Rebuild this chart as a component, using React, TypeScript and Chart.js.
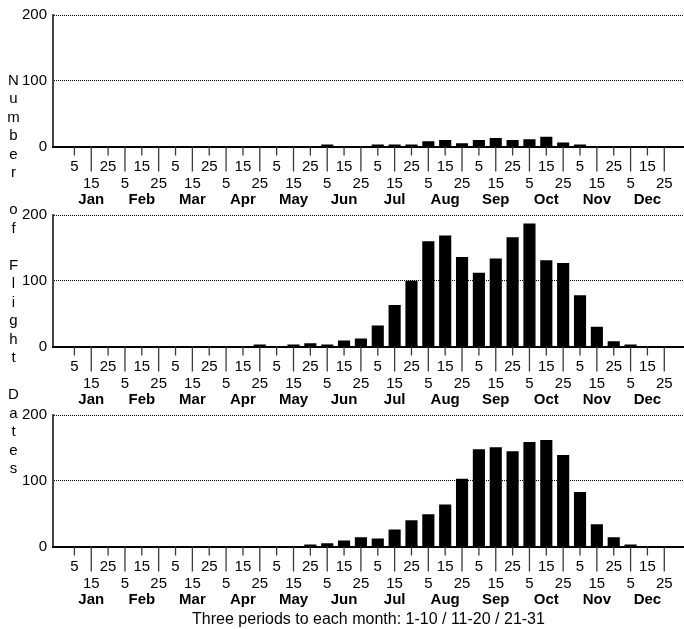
import React, { useEffect, useRef } from 'react';
import { Chart, registerables } from 'chart.js';

Chart.register(...registerables);

// ---- data ----
const months = ['Jan', 'Feb', 'Mar', 'Apr', 'May', 'Jun', 'Jul', 'Aug', 'Sep', 'Oct', 'Nov', 'Dec'];
const dayLabels = ['5', '15', '25'];
const categories = months.flatMap((m) => dayLabels.map((d) => `${m} ${d}`));
const yTicks = [0, 100, 200];

const seriesTop = [
  0, 0, 0, 0, 0, 0, 0, 0, 0, 0, 0, 0,
  0, 0, 0, 3, 0, 0, 3, 3, 3, 8, 10, 5,
  10, 13, 10, 11, 15, 6, 3, 0, 0, 0, 0, 0,
];
const seriesMiddle = [
  0, 0, 0, 0, 0, 0, 0, 0, 0, 0, 0, 3,
  0, 3, 5, 3, 9, 12, 32, 63, 100, 160, 169, 136,
  112, 134, 166, 187, 131, 127, 78, 30, 8, 3, 0, 0,
];
const seriesBottom = [
  0, 0, 0, 0, 0, 0, 0, 0, 0, 0, 0, 0,
  0, 0, 3, 5, 9, 14, 12, 26, 40, 49, 64, 103,
  148, 151, 145, 159, 162, 139, 83, 34, 14, 3, 0, 0,
];

const yAxisTitle = 'Number of Flight Dates';
const xAxisTitle = 'Three periods to each month: 1-10 / 11-20 / 21-31';

const FONT = "'Liberation Sans', Arial, sans-serif";
Chart.defaults.font.family = FONT;

const tickMarks = {
  id: 'tickMarks',
  afterDraw(chart: any) {
    const s = chart.scales.x;
    const ctx = chart.ctx;
    const y0 = chart.chartArea.bottom;
    ctx.save();
    ctx.strokeStyle = '#3a3a3a';
    ctx.lineWidth = 1.3;
    categories.forEach((_, i) => {
      const x = s.getPixelForValue(i);
      ctx.beginPath();
      ctx.moveTo(x, y0);
      ctx.lineTo(x, y0 + (i % 2 === 0 ? 9 : 25));
      ctx.stroke();
    });
    ctx.restore();
  },
};

function buildTicks(s: any) {
  s.ticks = categories.map((_, i) => ({ value: i }));
}

function makeConfig(values: number[], height: number, withTitle: boolean): any {
  const bottom = 146.5;
  const H1 = 44;
  const H2 = withTitle ? height - bottom - H1 : 20;
  const padBottom = withTitle ? 0 : height - bottom - H1 - H2;
  return {
    type: 'bar',
    data: {
      datasets: [
        {
          data: values.map((v, i) => ({ x: i, y: v })),
          backgroundColor: '#000',
          borderWidth: 0,
          barPercentage: 0.72,
          categoryPercentage: 1,
          xAxisID: 'x',
          yAxisID: 'y',
        },
      ],
    },
    options: {
      animation: false,
      responsive: false,
      layout: { padding: { top: 13, left: 0, right: 0, bottom: padBottom } },
      plugins: { legend: { display: false }, tooltip: { enabled: false } },
      scales: {
        x: {
          type: 'linear',
          position: 'bottom',
          min: -0.75,
          max: 35.65,
          grid: { display: false, drawTicks: false },
          border: { display: true, color: '#000', width: 2, z: 1 },
          afterBuildTicks: buildTicks,
          afterFit: (s: any) => {
            s.height = H1;
            s.paddingLeft = 0;
            s.paddingRight = 0;
          },
          ticks: {
            autoSkip: false,
            maxRotation: 0,
            minRotation: 0,
            padding: 11.5,
            color: '#000',
            font: { size: 15, lineHeight: 17 / 15 },
            callback: (v: number) => {
              const i = Math.round(v);
              const t = dayLabels[i % 3];
              return i % 2 === 0 ? [t, ''] : ['', t];
            },
          },
        },
        x2: {
          type: 'linear',
          position: 'bottom',
          min: -0.75,
          max: 35.65,
          grid: { display: false, drawTicks: false },
          border: { display: false },
          afterBuildTicks: buildTicks,
          afterFit: (s: any) => {
            s.height = H2;
            s.paddingLeft = 0;
            s.paddingRight = 0;
          },
          ticks: {
            autoSkip: false,
            maxRotation: 0,
            minRotation: 0,
            padding: 0.5,
            color: '#000',
            font: { size: 15, weight: 'bold', lineHeight: 17 / 15 },
            callback: (v: number) => {
              const i = Math.round(v);
              return i % 3 === 1 ? months[(i - 1) / 3] : '';
            },
          },
          title: {
            display: withTitle,
            text: xAxisTitle,
            color: '#000',
            font: { size: 16 },
            padding: { top: 0, bottom: 0 },
          },
        },
        y: {
          position: 'left',
          min: 0,
          max: 200,
          afterBuildTicks: (s: any) => {
            s.ticks = yTicks.map((v) => ({ value: v }));
          },
          afterFit: (s: any) => {
            s.width = 53;
          },
          ticks: { color: '#000', padding: 6, font: { size: 15 } },
          grid: {
            drawTicks: false,
            lineWidth: 1,
            color: (c: any) => (c.tick && c.tick.value === 0 ? 'rgba(0,0,0,0)' : '#000'),
          },
          border: { color: '#444', width: 2, dash: [1, 1] },
        },
      },
    },
    plugins: [tickMarks],
  };
}

function Panel({ values, top, height, withTitle }: { values: number[]; top: number; height: number; withTitle: boolean }) {
  const ref = useRef<HTMLCanvasElement | null>(null);
  useEffect(() => {
    if (!ref.current) return;
    const chart = new Chart(ref.current, makeConfig(values, height, withTitle));
    return () => chart.destroy();
  }, [values, height, withTitle]);
  return (
    <canvas
      ref={ref}
      width={684}
      height={height}
      style={{ position: 'absolute', left: 0, top, width: 684, height, display: 'block' }}
    />
  );
}

export default function App() {
  return (
    <div style={{ position: 'absolute', left: 0, top: 0, width: 684, height: 629, background: '#fff', overflow: 'hidden' }}>
      <Panel values={seriesTop} top={0} height={212} withTitle={false} />
      <Panel values={seriesMiddle} top={200} height={212} withTitle={false} />
      <Panel values={seriesBottom} top={400} height={229} withTitle={true} />
      <div
        style={{
          position: 'absolute',
          left: 0,
          top: 70.75,
          width: 27,
          textAlign: 'center',
          fontFamily: FONT,
          fontSize: 15,
          lineHeight: '18.5px',
          color: '#000',
        }}
      >
        {yAxisTitle.split('').map((c, i) => (
          <div key={i}>{c === ' ' ? '\u00a0' : c}</div>
        ))}
      </div>
    </div>
  );
}
